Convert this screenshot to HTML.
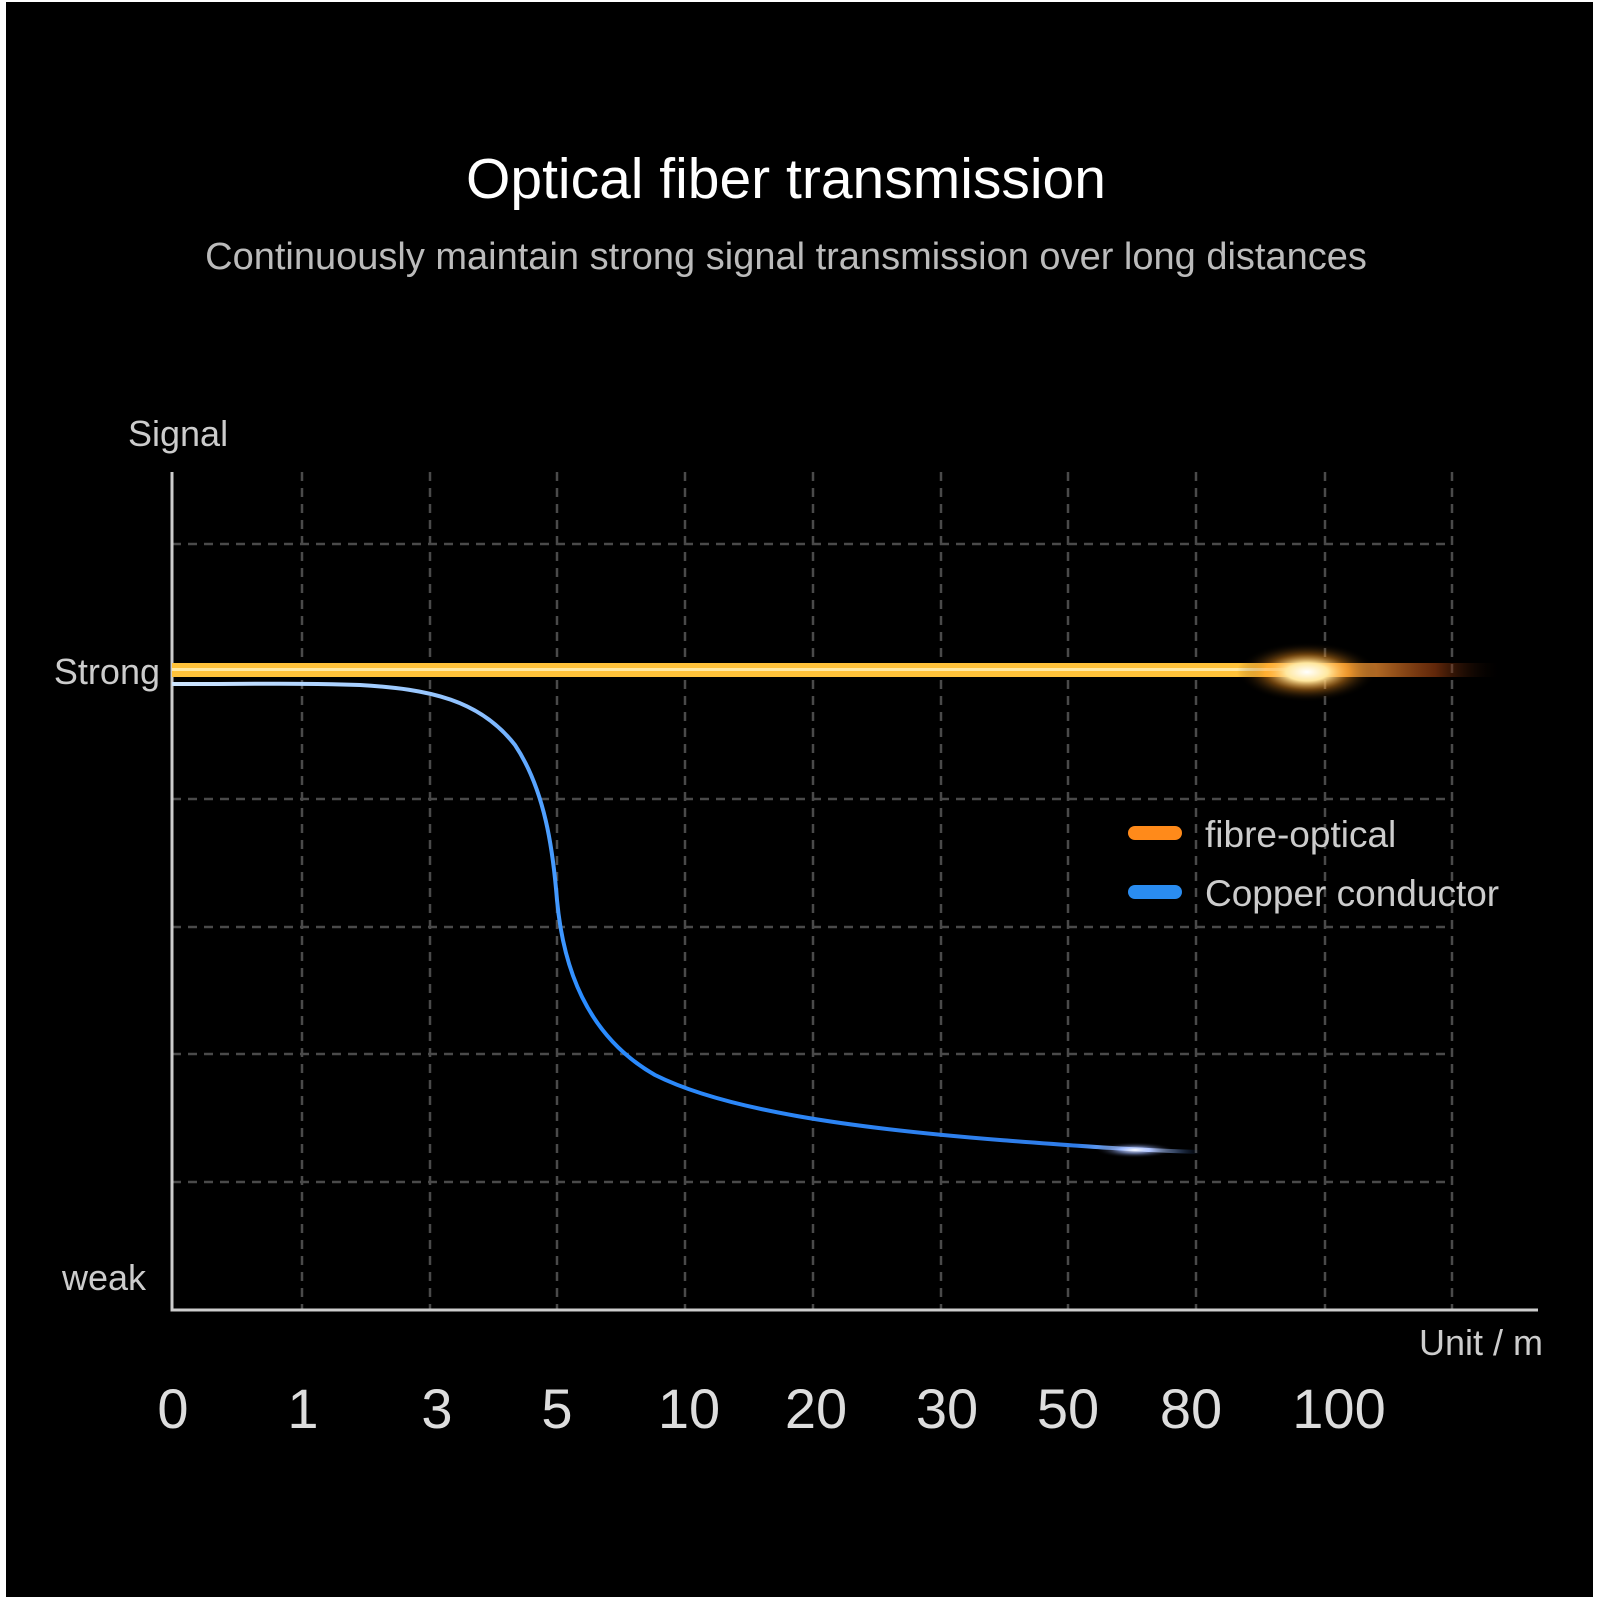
<!DOCTYPE html>
<html><head><meta charset="utf-8"><style>
html,body{margin:0;padding:0;background:#fff;}
svg{display:block;}
text{font-family:"Liberation Sans",sans-serif;}
</style></head><body>
<svg width="1600" height="1600" viewBox="0 0 1600 1600" xmlns="http://www.w3.org/2000/svg">
<defs>
<linearGradient id="fib" x1="0" x2="1" y1="0" y2="0">
<stop offset="0" stop-color="#ffc23a"/><stop offset="0.8" stop-color="#ffc23a"/><stop offset="0.87" stop-color="#ffb040"/><stop offset="0.95" stop-color="#a04010" stop-opacity="0.6"/><stop offset="1" stop-color="#000" stop-opacity="0"/>
</linearGradient>
<linearGradient id="cu" x1="172" x2="1200" y1="0" y2="0" gradientUnits="userSpaceOnUse">
<stop offset="0" stop-color="#cfe6ff"/><stop offset="0.3" stop-color="#8cc0ff"/><stop offset="0.4" stop-color="#2a8cff"/><stop offset="0.88" stop-color="#2f7ce8"/><stop offset="0.95" stop-color="#c8d8ff"/><stop offset="1" stop-color="#2050a0" stop-opacity="0"/>
</linearGradient>
<radialGradient id="glow"><stop offset="0" stop-color="#fff"/><stop offset="0.3" stop-color="#ffe8a0"/><stop offset="0.6" stop-color="#ff9a20" stop-opacity="0.4"/><stop offset="1" stop-color="#000" stop-opacity="0"/></radialGradient>
<radialGradient id="bglow"><stop offset="0" stop-color="#fff"/><stop offset="0.4" stop-color="#a0b8ff" stop-opacity="0.6"/><stop offset="1" stop-color="#000" stop-opacity="0"/></radialGradient>
</defs>
<rect x="6" y="2" width="1587" height="1595" fill="#000"/>
<text x="786" y="198" font-size="57" fill="#fff" text-anchor="middle">Optical fiber transmission</text>
<text x="786" y="269" font-size="38" fill="#bbb" text-anchor="middle">Continuously maintain strong signal transmission over long distances</text>
<text x="128" y="446" font-size="36" fill="#ccc">Signal</text>
<g stroke="#4a4a4a" stroke-width="2.5" stroke-dasharray="9 7" fill="none">
<path d="M302 472V1310M430 472V1310M557 472V1310M685 472V1310M813 472V1310M941 472V1310M1068 472V1310M1196 472V1310M1325 472V1310M1452 472V1310"/>
<path d="M172 544H1452M172 799H1452M172 927H1452M172 1054H1452M172 1182H1452"/>
</g>
<path d="M172 472V1310H1538" stroke="#ccc" stroke-width="3" fill="none"/>
<text x="160" y="684" font-size="36" fill="#ccc" text-anchor="end">Strong</text>
<text x="62" y="1290" font-size="36" fill="#ccc">weak</text>
<text x="1543" y="1355" font-size="36" fill="#ccc" text-anchor="end">Unit / m</text>
<g font-size="56" fill="#ddd" text-anchor="middle">
<text x="173" y="1428">0</text><text x="303" y="1428">1</text><text x="437" y="1428">3</text><text x="557" y="1428">5</text><text x="689" y="1428">10</text><text x="816" y="1428">20</text><text x="947" y="1428">30</text><text x="1068" y="1428">50</text><text x="1191" y="1428">80</text><text x="1339" y="1428">100</text>
</g>
<rect x="172" y="663" width="1330" height="14" fill="url(#fib)"/>
<rect x="172" y="668" width="1150" height="3" fill="#fff3c0" opacity="0.8"/>
<ellipse cx="1307" cy="672" rx="70" ry="30" fill="url(#glow)"/>
<path d="M172 684 C260 684 306 683 360 685 C430 689 480 700 515 745 C545 790 553 850 557 900 C563 965 585 1035 655 1075 C725 1110 850 1128 1000 1140 C1080 1146 1130 1150 1200 1152" stroke="url(#cu)" stroke-width="4" fill="none"/>
<ellipse cx="1135" cy="1150" rx="40" ry="8" fill="url(#bglow)"/>
<rect x="1128" y="826" width="54" height="14" rx="7" fill="#ff8a1a"/>
<rect x="1128" y="885" width="54" height="14" rx="7" fill="#2a8cf0"/>
<text x="1205" y="847" font-size="37" fill="#ccc">fibre-optical</text>
<text x="1205" y="906" font-size="37" fill="#ccc">Copper conductor</text>
</svg>
</body></html>
